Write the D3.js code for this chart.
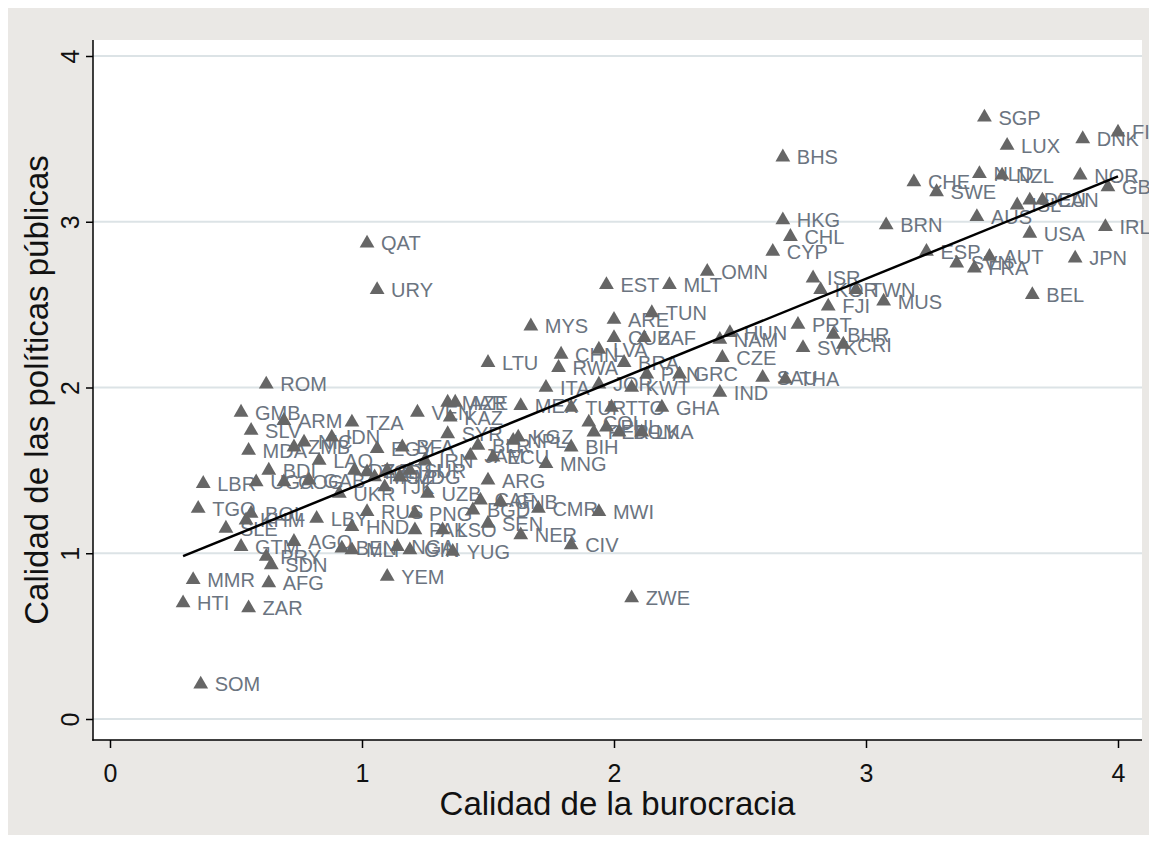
<!DOCTYPE html>
<html>
<head>
<meta charset="utf-8">
<script src="https://cdn.jsdelivr.net/npm/d3@7"></script>
<style>
  body { margin: 0; background: #ffffff; }
  svg { display: block; }
  text { font-family: "Liberation Sans", Arial, sans-serif; }
</style>
</head>
<body>
<svg id="chart" width="1149" height="841"></svg>
<script>
// Country codes and the two indices (bureaucratic quality vs. policy quality)
const countries = [
  "SGP","LUX","DNK","FIN","BHS","NLD","NZL","NOR","GBR","CHE",
  "SWE","ISL","DEU","CAN","AUS","USA","IRL","JPN","BEL","BRN",
  "ESP","SVN","FRA","AUT","MUS","ISR","KOR","TWN","FJI","HKG",
  "CHL","CYP","OMN","MLT","EST","PRT","BHR","CRI","SVK","HUN",
  "NAM","CZE","SAU","THA","IND","GRC","PAN","MYS","ARE","TUN",
  "CUB","ZAF","CHN","LVA","RWA","BRA","ITA","JOR","KWT","MEX",
  "TUR","TTO","GHA","COL","PER","PHL","DOM","LKA","LTU","QAT",
  "URY","KGZ","BIH","MNG","CMR","MWI","NER","CIV","ZWE","GNB",
  "ARG","TZA","VEN","MAR","AZE","KAZ","ROM","GMB","ARM","IDN",
  "SLV","MDA","ZMB","NIC","LAO","LBR","TGO","SLE","LBY","GTM",
  "AGO","PRY","SDN","MMR","AFG","HTI","ZAR","SOM","UKR","UZB",
  "RUS","PNG","HND","PAK","LSO","YUG","YEM","BEN","NGA","GIN",
  "KHM","BOL","IRN","ECU","BGD","SEN","CAF","BDI","UGA","COG",
  "GAB","EGY","BFA","SYR","NPL","DZA","TCD","MOZ","ETH","MDG",
  "SUR","BLR","JAM","TJK","MLI"
];
const burocracia = [
  3.47,3.56,3.86,4.00,2.67,3.45,3.54,3.85,3.96,3.19,
  3.28,3.60,3.65,3.70,3.44,3.65,3.95,3.83,3.66,3.08,
  3.24,3.36,3.43,3.49,3.07,2.79,2.82,2.96,2.85,2.67,
  2.70,2.63,2.37,2.22,1.97,2.73,2.87,2.91,2.75,2.46,
  2.42,2.43,2.59,2.68,2.42,2.26,2.13,1.67,2.00,2.15,
  2.00,2.12,1.79,1.94,1.78,2.04,1.73,1.94,2.07,1.63,
  1.83,1.99,2.19,1.90,1.92,1.97,2.02,2.11,1.50,1.02,
  1.06,1.62,1.83,1.73,1.70,1.94,1.63,1.83,2.07,1.55,
  1.50,0.96,1.22,1.34,1.37,1.35,0.62,0.52,0.69,0.88,
  0.56,0.55,0.73,0.77,0.83,0.37,0.35,0.46,0.82,0.52,
  0.73,0.62,0.64,0.33,0.63,0.29,0.55,0.36,0.91,1.26,
  1.02,1.21,0.96,1.21,1.32,1.36,1.10,0.92,1.14,1.19,
  0.54,0.56,1.25,1.52,1.44,1.50,1.47,0.63,0.58,0.69,
  0.79,1.06,1.16,1.34,1.60,0.97,1.02,1.05,1.10,1.15,
  1.19,1.46,1.43,1.09,0.96
];
const politicas = [
  3.63,3.46,3.50,3.54,3.39,3.29,3.28,3.28,3.21,3.24,
  3.18,3.10,3.13,3.13,3.03,2.93,2.97,2.78,2.56,2.98,
  2.82,2.75,2.72,2.79,2.52,2.66,2.59,2.59,2.49,3.01,
  2.91,2.82,2.70,2.62,2.62,2.38,2.32,2.26,2.24,2.33,
  2.29,2.18,2.06,2.05,1.97,2.08,2.08,2.37,2.41,2.45,
  2.30,2.30,2.20,2.23,2.12,2.15,2.00,2.02,2.00,1.89,
  1.88,1.88,1.88,1.79,1.73,1.76,1.73,1.73,2.15,2.87,
  2.59,1.70,1.64,1.54,1.27,1.25,1.11,1.05,0.73,1.31,
  1.44,1.79,1.85,1.91,1.91,1.82,2.02,1.85,1.80,1.70,
  1.74,1.62,1.64,1.67,1.56,1.42,1.27,1.15,1.21,1.04,
  1.07,0.98,0.93,0.84,0.82,0.70,0.67,0.21,1.36,1.36,
  1.25,1.24,1.16,1.14,1.14,1.01,0.86,1.03,1.04,1.02,
  1.20,1.24,1.56,1.58,1.26,1.18,1.32,1.50,1.43,1.43,
  1.44,1.63,1.64,1.72,1.68,1.50,1.49,1.46,1.50,1.46,
  1.50,1.65,1.59,1.40,1.02
];

const xTicks = [0, 1, 2, 3, 4];
const yTicks = [0, 1, 2, 3, 4];
const xTitle = "Calidad de la burocracia";
const yTitle = "Calidad de las políticas públicas";

const W = 1149, H = 841;
const plot = { left: 93, top: 40, right: 1142, bottom: 740 };

const svg = d3.select("#chart");

// graph region and plot region backgrounds
svg.append("rect").attr("x", 8).attr("y", 8)
  .attr("width", W - 8).attr("height", H - 14)
  .attr("fill", "#eae8e5");
svg.append("rect").attr("x", plot.left).attr("y", plot.top)
  .attr("width", plot.right - plot.left).attr("height", plot.bottom - plot.top)
  .attr("fill", "#ffffff");

const x = d3.scaleLinear().domain([0, 4]).range([110, 1118]);
const y = d3.scaleLinear().domain([0, 4]).range([719, 56]);

// horizontal grid lines
svg.append("g").selectAll("line").data(yTicks).join("line")
  .attr("x1", plot.left).attr("x2", plot.right)
  .attr("y1", d => y(d)).attr("y2", d => y(d))
  .attr("stroke", "#dce3e6").attr("stroke-width", 2);

// y axis
const yAxis = svg.append("g").attr("transform", `translate(${plot.left},0)`)
  .call(d3.axisLeft(y).tickValues(yTicks).tickSize(7).tickFormat(d3.format("d")));
yAxis.select(".domain").remove();
yAxis.selectAll(".tick line").attr("stroke", "#000").attr("stroke-width", 1.5);
yAxis.selectAll(".tick text")
  .attr("transform", "rotate(-90)")
  .attr("x", 0).attr("y", -23).attr("dy", "0.36em")
  .attr("text-anchor", "middle")
  .attr("font-size", 25).attr("fill", "#111")
  .style("font-family", '"Liberation Sans", Arial, sans-serif');

// x axis
const xAxis = svg.append("g").attr("transform", `translate(0,${plot.bottom})`)
  .call(d3.axisBottom(x).tickValues(xTicks).tickSize(8).tickFormat(d3.format("d")));
xAxis.select(".domain").remove();
xAxis.selectAll(".tick line").attr("stroke", "#000").attr("stroke-width", 1.5);
xAxis.selectAll(".tick text")
  .attr("y", 33).attr("dy", "0.36em")
  .attr("font-size", 25).attr("fill", "#111")
  .style("font-family", '"Liberation Sans", Arial, sans-serif');

// axis lines
svg.append("line").attr("x1", plot.left).attr("x2", plot.left)
  .attr("y1", plot.top).attr("y2", plot.bottom + 0.75)
  .attr("stroke", "#000").attr("stroke-width", 1.5);
svg.append("line").attr("x1", plot.left - 0.75).attr("x2", plot.right)
  .attr("y1", plot.bottom).attr("y2", plot.bottom)
  .attr("stroke", "#000").attr("stroke-width", 1.5);

// axis titles
svg.append("text")
  .attr("x", (plot.left + plot.right) / 2).attr("y", 803).attr("dy", "0.36em")
  .attr("text-anchor", "middle").attr("font-size", 33).attr("fill", "#111")
  .text(xTitle);
svg.append("text")
  .attr("transform", `translate(36,${(plot.top + plot.bottom) / 2}) rotate(-90)`)
  .attr("dy", "0.36em")
  .attr("text-anchor", "middle").attr("font-size", 33).attr("fill", "#111")
  .text(yTitle);

const points = countries.map((c, i) => ({ c, bx: burocracia[i], py: politicas[i] }));

// marker labels (to the right of each marker)
svg.append("g").selectAll("text").data(points).join("text")
  .attr("x", d => x(d.bx) + 14).attr("y", d => y(d.py)).attr("dy", "0.36em")
  .attr("font-size", 20).attr("fill", "#6b7480")
  .text(d => d.c);

// triangle markers
const tri = d3.symbol().type(d3.symbolTriangle).size(95);
svg.append("g").selectAll("path").data(points).join("path")
  .attr("transform", d => `translate(${x(d.bx)},${y(d.py)})`)
  .attr("d", tri)
  .attr("fill", "#666666");

// least-squares fit line over the observed range
const n = points.length;
const mx = d3.mean(burocracia), my = d3.mean(politicas);
let sxy = 0, sxx = 0;
for (let i = 0; i < n; i++) {
  sxy += (burocracia[i] - mx) * (politicas[i] - my);
  sxx += (burocracia[i] - mx) ** 2;
}
const slope = sxy / sxx, intercept = my - slope * mx;
const [xmin, xmax] = d3.extent(burocracia);
const fit = [xmin, xmax].map(v => [v, intercept + slope * v]);
svg.append("path")
  .attr("d", d3.line().x(d => x(d[0])).y(d => y(d[1]))(fit))
  .attr("fill", "none").attr("stroke", "#000").attr("stroke-width", 2.5);
</script>
</body>
</html>
